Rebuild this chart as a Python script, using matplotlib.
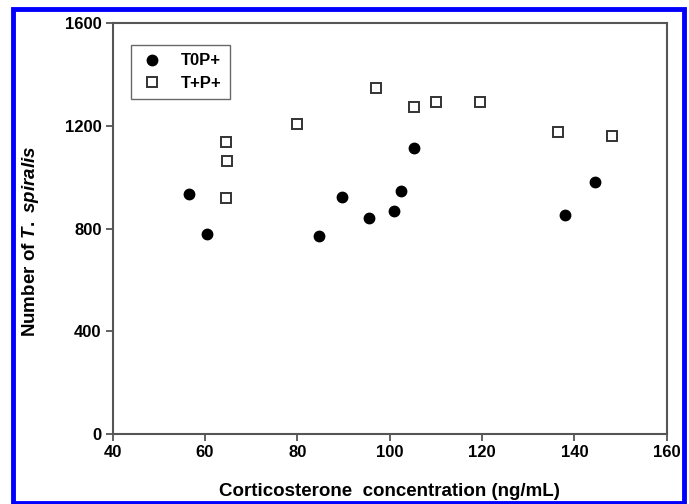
import matplotlib.pyplot as plt
from matplotlib.patches import Rectangle

plt.rcParams['font.family'] = ['Liberation Sans', 'DejaVu Sans']
plt.rcParams['font.weight'] = 'bold'
plt.rcParams['mathtext.fontset'] = 'custom'
plt.rcParams['mathtext.it'] = 'Liberation Sans:italic:bold'
plt.rcParams['mathtext.rm'] = 'Liberation Sans:bold'

# T0P+ (filled circles)
t0_x = [56.6, 60.4, 84.7, 89.6, 95.6, 100.9, 102.4, 105.3, 137.9, 144.4]
t0_y = [934, 779, 772, 924, 841, 869, 945, 1113, 854, 982]

# T+P+ (open squares)
tp_x = [64.5, 64.8, 64.5, 79.9, 97.1, 105.3, 110.0, 119.6, 136.4, 148.1]
tp_y = [1136, 1065, 918, 1206, 1349, 1273, 1295, 1292, 1175, 1160]

x_ticks = [40, 60, 80, 100, 120, 140, 160]
y_ticks = [0, 400, 800, 1200, 1600]

fig = plt.figure(figsize=(6.89, 5.04), dpi=100)
ax = fig.add_axes([0.1636, 0.1389, 0.804, 0.8149])

ax.plot(t0_x, t0_y, 'o', color='black', markersize=7.5, label='T0P+', linestyle='none')
ax.plot(tp_x, tp_y, 's', markerfacecolor='white', markeredgecolor='#333333',
        markeredgewidth=1.4, markersize=6.5, label='T+P+', linestyle='none')

ax.set_xlim(40, 160)
ax.set_ylim(0, 1600)
ax.set_xticks(x_ticks)
ax.set_yticks(y_ticks)
ax.tick_params(direction='out', length=5, width=1.3, color='#555555',
               labelsize=12, pad=3)
for s in ax.spines.values():
    s.set_color('#555555')
    s.set_linewidth(1.5)

ax.set_xlabel('Corticosterone  concentration (ng/mL)', fontsize=13.5, fontweight='bold')
ax.xaxis.set_label_coords(0.5, -0.12)
ax.set_ylabel(r'Number of $\it{T.\ spiralis}$', fontsize=13.5, fontweight='bold')
ax.yaxis.set_label_coords(-0.13, 0.47)

leg = ax.legend(loc='upper left', bbox_to_anchor=(0.0325, 0.947), fontsize=12,
                frameon=True, fancybox=False, edgecolor='#444444',
                handletextpad=0.9, borderpad=0.5, labelspacing=0.45,
                handlelength=1.6, borderaxespad=0)
leg.get_frame().set_linewidth(1.0)

# blue frame around the figure
fig.patches.append(Rectangle((12.5 / 689, 1.5 / 504), 671.5 / 689, 494 / 504,
                             transform=fig.transFigure, fill=False,
                             edgecolor='#0000ff', linewidth=3.5))

fig.savefig('out.png', dpi=100)
